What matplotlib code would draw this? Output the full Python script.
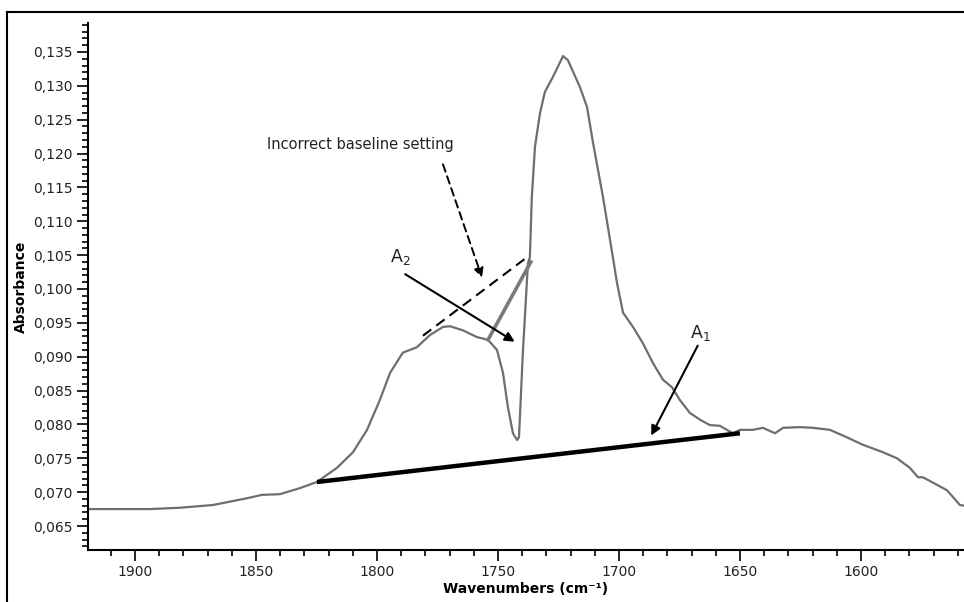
import matplotlib

matplotlib.use("Agg")
import matplotlib.pyplot as plt
from matplotlib.lines import Line2D
from matplotlib.ticker import MultipleLocator, FuncFormatter

# spectrum (wavenumber, absorbance)
wavenumbers = [
    1919.4, 1906.2, 1893.8, 1881.4, 1867.8, 1853.7, 1847.5, 1840.1, 1831.8,
    1824.8, 1816.5, 1809.9, 1804.1, 1798.8, 1794.6, 1789.3, 1783.5, 1778.1,
    1772.7, 1769.8, 1764.5, 1758.7, 1754.1, 1750.4, 1747.9, 1745.9, 1743.8,
    1742.1, 1741.3, 1739.7, 1737.6, 1736.8, 1736.0, 1734.7, 1732.6, 1730.6,
    1727.3, 1723.1, 1721.1, 1716.1, 1713.2, 1710.7, 1706.6, 1702.5, 1700.8,
    1698.3, 1694.2, 1690.1, 1686.0, 1681.8, 1678.1, 1674.8, 1670.7, 1666.5,
    1662.4, 1658.3, 1655.4, 1652.9, 1650.0, 1644.6, 1640.5, 1635.5, 1632.2,
    1625.2, 1619.8, 1612.8, 1605.8, 1599.2, 1590.9, 1585.1, 1579.8, 1576.4,
    1574.4, 1570.2, 1564.5, 1562.0, 1559.1, 1557.4,
]
absorbance = [
    0.0675, 0.0675, 0.0675, 0.0677, 0.0681, 0.0691, 0.0696, 0.0697, 0.0706,
    0.0715, 0.0736, 0.0759, 0.0792, 0.0836, 0.0876, 0.0906, 0.0914, 0.0932,
    0.0944, 0.0945, 0.0939, 0.0929, 0.0925, 0.0910, 0.0876, 0.0826, 0.0787,
    0.0777, 0.0781, 0.0906, 0.1038, 0.1047, 0.1136, 0.1210, 0.1260, 0.1291,
    0.1313, 0.1344, 0.1338, 0.1298, 0.1269, 0.1216, 0.1136, 0.1047, 0.1009,
    0.0965, 0.0944, 0.0920, 0.0891, 0.0866, 0.0855, 0.0836, 0.0817, 0.0807,
    0.0799, 0.0798, 0.0792, 0.0787, 0.0792, 0.0792, 0.0795, 0.0787, 0.0795,
    0.0796, 0.0795, 0.0792, 0.0781, 0.0770, 0.0759, 0.0750, 0.0736, 0.0722,
    0.0722, 0.0714, 0.0703, 0.0693, 0.0681, 0.0680,
]

# baselines
a1_baseline_x = [1824.8, 1650.0]
a1_baseline_y = [0.0715, 0.0787]
a2_baseline_x = [1754.1, 1736.4]
a2_baseline_y = [0.0925, 0.1040]
wrong_baseline_x = [1781.0, 1737.2]
wrong_baseline_y = [0.0931, 0.1049]

fig = plt.figure(figsize=(9.64, 6.02), dpi=100)
ax = fig.add_axes([0.0913, 0.0864, 0.9087, 0.8754])

ax.plot(wavenumbers, absorbance, "-", color="#6e6e6e", linewidth=1.6)
ax.plot(a1_baseline_x, a1_baseline_y, "-", color="black", linewidth=3.2, solid_capstyle="butt")
ax.plot(a2_baseline_x, a2_baseline_y, "-", color="#7a7a7a", linewidth=2.6)
ax.plot(wrong_baseline_x, wrong_baseline_y, "--", color="black", linewidth=1.5, dashes=(5, 3))

# annotations
ax.text(1807.0, 0.1213, "Incorrect baseline setting", ha="center", va="center",
        fontsize=10.5, color="#222222")
ax.annotate("", xy=(1756.2, 0.1013), xytext=(1773.1, 0.1188),
            arrowprops=dict(arrowstyle="-|>", color="black", lw=1.4,
                            linestyle=(0, (4, 2.5)), mutation_scale=14))

ax.text(1790.5, 0.1047, "A$_{\\mathregular{2}}$", ha="center", va="center",
        fontsize=12.5, color="#222222")
ax.annotate("", xy=(1742.1, 0.0920), xytext=(1789.3, 0.1024),
            arrowprops=dict(arrowstyle="-|>", color="black", lw=1.5, mutation_scale=14))

ax.text(1666.5, 0.0935, "A$_{\\mathregular{1}}$", ha="center", va="center",
        fontsize=12.5, color="#222222")
ax.annotate("", xy=(1687.2, 0.0780), xytext=(1666.9, 0.0920),
            arrowprops=dict(arrowstyle="-|>", color="black", lw=1.5, mutation_scale=14))

ax.set_xlim(1919.4, 1557.4)
ax.set_ylim(0.06146, 0.13928)

ax.xaxis.set_major_locator(MultipleLocator(50))
ax.xaxis.set_minor_locator(MultipleLocator(10))
ax.yaxis.set_major_locator(MultipleLocator(0.005))
ax.yaxis.set_minor_locator(MultipleLocator(0.001))
ax.yaxis.set_major_formatter(FuncFormatter(lambda v, p: ("%.3f" % v).replace(".", ",")))

for side in ["top", "right"]:
    ax.spines[side].set_visible(False)
for side in ["left", "bottom"]:
    ax.spines[side].set_linewidth(1.5)

ax.tick_params(which="major", length=8, width=1.2, labelsize=10, labelcolor="#222222", pad=3)
ax.tick_params(which="minor", length=4, width=1.2)

ax.set_xlabel("Wavenumbers (cm\u207b\u00b9)", fontweight="bold", fontsize=10, labelpad=2)
ax.set_ylabel("Absorbance", fontweight="bold", fontsize=10, labelpad=4)

# outer frame, cut off at right and bottom
fx = 7 / 964
fy = 1 - 12 / 602
fig.add_artist(Line2D([fx, fx], [-0.1, fy], transform=fig.transFigure, color="black", lw=1.5))
fig.add_artist(Line2D([fx, 1.1], [fy, fy], transform=fig.transFigure, color="black", lw=1.5))

plt.savefig("out.png", dpi=100)
